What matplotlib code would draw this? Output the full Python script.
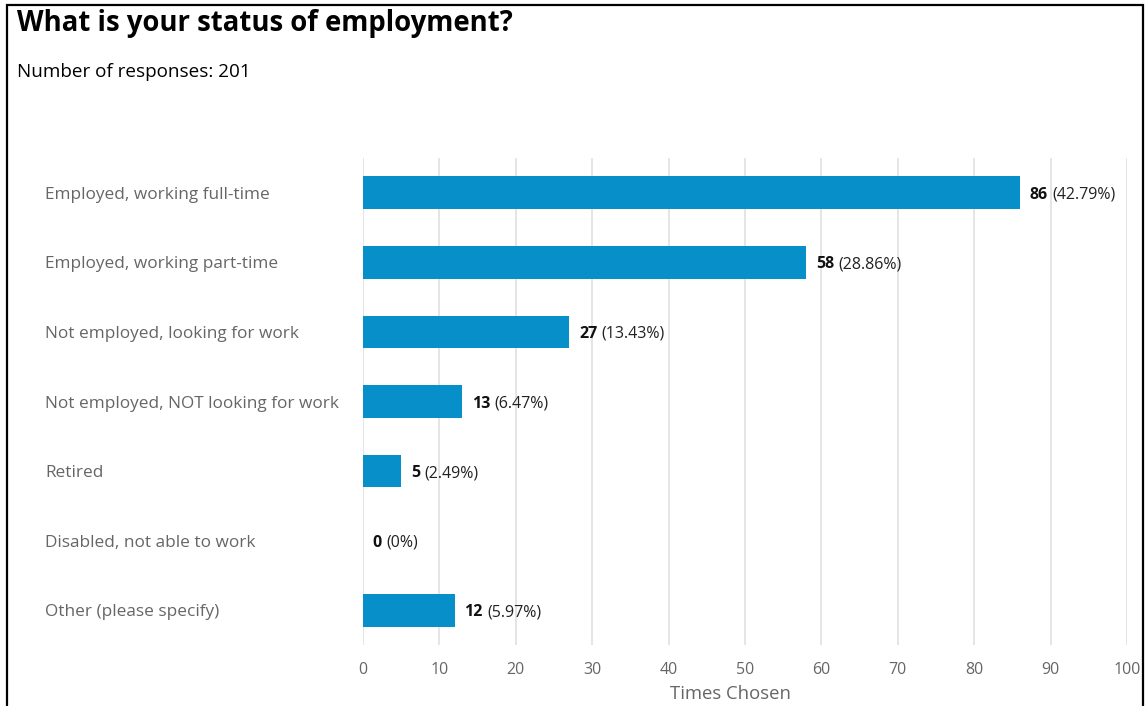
import matplotlib
matplotlib.use('Agg')
import matplotlib.pyplot as plt
from matplotlib.patches import Rectangle
from matplotlib.transforms import blended_transform_factory

plt.rcParams['font.family'] = ['Open Sans', 'DejaVu Sans']

categories = [
    'Employed, working full-time',
    'Employed, working part-time',
    'Not employed, looking for work',
    'Not employed, NOT looking for work',
    'Retired',
    'Disabled, not able to work',
    'Other (please specify)',
]
counts = [86, 58, 27, 13, 5, 0, 12]
total_responses = 201
xticks = [0, 10, 20, 30, 40, 50, 60, 70, 80, 90, 100]

W, H = 1147, 706
fig = plt.figure(figsize=(W / 100, H / 100), dpi=100)
fig.patch.set_facecolor('white')

# axes box in pixels: left 363, right 1127, top 158, bottom 645
ax = fig.add_axes([363 / W, (H - 645) / H, (1127 - 363) / W, (645 - 158) / H])

ypos = list(range(len(categories)))
ax.barh(ypos, counts, height=0.47, color='#068fc9', zorder=3)
ax.set_xlim(0, 100)
ax.set_ylim(len(categories) - 0.5, -0.5)
ax.set_xticks(xticks)
ax.set_xticklabels([str(t) for t in xticks], color='#666666', fontsize=11.5)
ax.tick_params(axis='x', length=0, pad=12)
ax.set_yticks([])
ax.grid(axis='x', color='#e3e3e3', linewidth=1.3, zorder=0)
for s in ax.spines.values():
    s.set_visible(False)
ax.set_xlabel('Times Chosen', color='#666666', fontsize=13.3)
ax.xaxis.set_label_coords(0.481, -0.083)

# category names, left aligned at a fixed figure position
trans = blended_transform_factory(fig.transFigure, ax.transData)
for y, name in zip(ypos, categories):
    ax.text(45 / W, y, name, transform=trans, ha='left', va='center_baseline',
            fontsize=12.4, color='#666666')

# value labels: bold count followed by the percentage
for y, v in zip(ypos, counts):
    pct = f"{v / total_responses * 100:.2f}".rstrip('0').rstrip('.')
    t1 = ax.annotate(str(v), xy=(v, y), xytext=(7, 0), textcoords='offset points',
                     ha='left', va='center_baseline', fontsize=11.5,
                     fontweight='bold', color='#111111')
    ax.annotate(f"({pct}%)", xy=(1, 0), xycoords=t1, xytext=(3, 0),
                textcoords='offset points', ha='left', va='bottom',
                fontsize=11.5, color='#222222')

fig.text(17 / W, 1 - 23 / H, 'What is your status of employment?', ha='left',
         va='center', fontsize=19.8, fontweight='bold', color='black')
fig.text(17 / W, 1 - 72 / H, 'Number of responses: 201', ha='left',
         va='center', fontsize=13.6, color='black')

# outer frame
fig.add_artist(Rectangle((7 / W, -0.05), (1143 - 7) / W, 1.05 - 5 / H,
                         transform=fig.transFigure, fill=False,
                         edgecolor='black', linewidth=1.6))

fig.savefig('out.png', dpi=100)
